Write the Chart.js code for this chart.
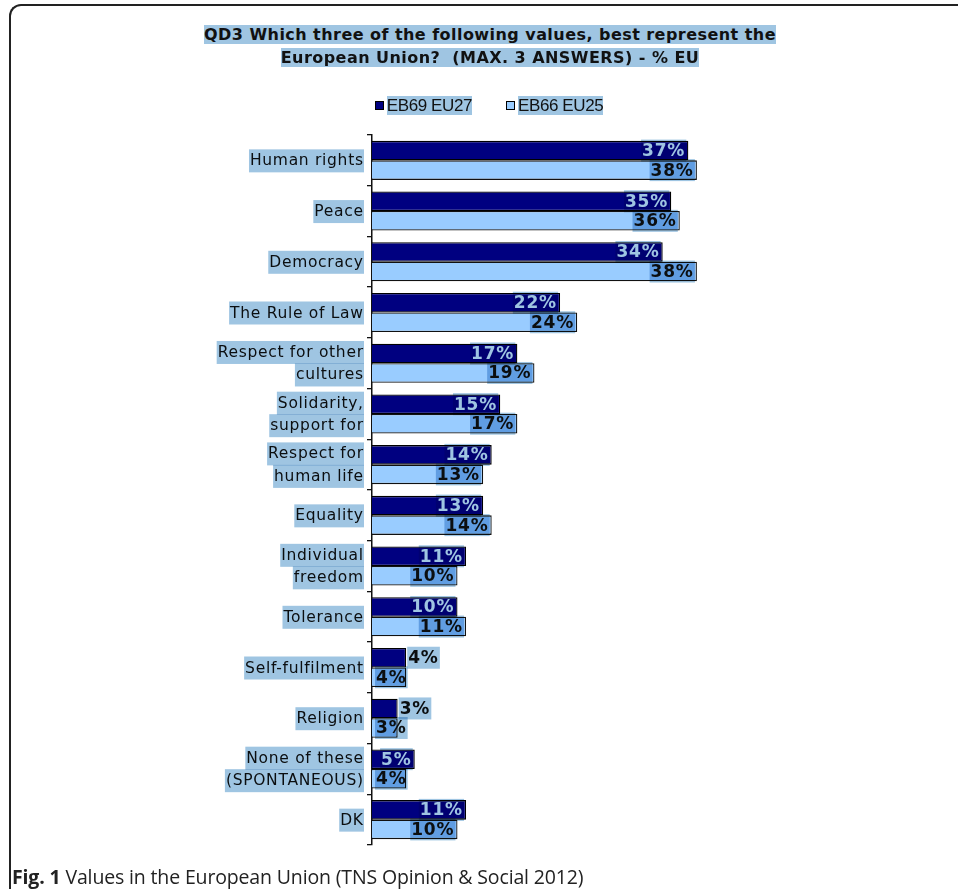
<!DOCTYPE html>
<html>
<head>
<meta charset="utf-8">
<script src="https://cdn.jsdelivr.net/npm/chart.js@4/dist/chart.umd.min.js"></script>
<style>
    body { margin: 0; width: 958px; height: 889px; overflow: hidden; background: #fff; position: relative; }
    .frame { position: absolute; left: 9px; top: 4px; width: 1000px; height: 1000px;
        border-left: 2px solid #222; border-top: 2px solid #222; border-top-left-radius: 12px; }
    .hl { background: #9fc5e2; mix-blend-mode: multiply; }
    #title { position: absolute; left: 0; top: 23px; width: 980px; text-align: center;
        font: bold 16px "DejaVu Sans", Verdana, sans-serif; letter-spacing: 0.45px; line-height: 23px; color: #111; }
    #legend { position: absolute; left: 0; top: 95px; width: 978px; text-align: center;
        font: 17px "Liberation Sans", Arial, sans-serif; line-height: 22px; color: #111; letter-spacing: -0.4px; }
    #legend .item { display: inline-block; margin: 0 17px; }
    #legend .box { display: inline-block; width: 7px; height: 7px; border: 1px solid #000; margin-right: 3px; vertical-align: 1px; }
    #caption { position: absolute; left: 12px; top: 863px; font: 19.5px "Open Sans", sans-serif; color: #222; letter-spacing: -0.15px; }
    #caption b { font-weight: bold; }
    .wrap { position: absolute; left: 0; top: 0; width: 958px; height: 889px; }
</style>
</head>
<body>
<div class="frame"></div>
<div class="wrap"><canvas id="values-chart"></canvas></div>
<div id="title"><span class="hl">QD3 Which three of the following values, best represent the</span><br><span class="hl">European Union?&nbsp; (MAX. 3 ANSWERS) - % EU</span></div>
<div id="legend"></div>
<div id="caption"><b>Fig. 1</b> Values in the European Union (TNS Opinion &amp; Social 2012)</div>
<script>
// categories, one array per label (multi-line labels)
const categories = [
    ['Human rights'],
    ['Peace'],
    ['Democracy'],
    ['The Rule of Law'],
    ['Respect for other', 'cultures'],
    ['Solidarity,', 'support for'],
    ['Respect for', 'human life'],
    ['Equality'],
    ['Individual', 'freedom'],
    ['Tolerance'],
    ['Self-fulfilment'],
    ['Religion'],
    ['None of these', '(SPONTANEOUS)'],
    ['DK']
];
const eb69Values = [37, 35, 34, 22, 17, 15, 14, 13, 11, 10, 4, 3, 5, 11];
const eb66Values = [38, 36, 38, 24, 19, 17, 13, 14, 10, 11, 4, 3, 4, 10];
const seriesNames = ['EB69 EU27', 'EB66 EU25'];

const HIGHLIGHT = '#9fc5e2';

// highlight a text box the way the pdf selection does (multiply blend)
function highlight(ctx, x, y, w, h) {
    ctx.save();
    ctx.globalCompositeOperation = 'multiply';
    ctx.fillStyle = HIGHLIGHT;
    ctx.fillRect(x, y, w, h);
    ctx.restore();
}

// category labels drawn left of the axis, one highlight per line
const categoryLabels = {
    id: 'categoryLabels',
    afterDraw(chart) {
        const ctx = chart.ctx;
        const yScale = chart.scales.y;
        const right = chart.chartArea.left - 9;
        ctx.save();
        ctx.font = '15.5px "DejaVu Sans", Verdana, sans-serif';
        ctx.letterSpacing = '0.7px';
        ctx.textAlign = 'left';
        ctx.textBaseline = 'middle';
        categories.forEach((lines, i) => {
            const cy = yScale.getPixelForValue(i);
            const lh = 22.5;
            lines.forEach((line, j) => {
                const ly = cy + (j - (lines.length - 1) / 2) * lh;
                const w = ctx.measureText(line).width - 0.7;
                ctx.fillStyle = '#111';
                ctx.fillText(line, right - w, ly + 1);
                highlight(ctx, right - w - 1, ly - 11, w + 2, 23);
            });
        });
        ctx.restore();
    }
};

// value labels at the end of each bar
const valueLabels = {
    id: 'valueLabels',
    afterDatasetsDraw(chart) {
        const ctx = chart.ctx;
        ctx.save();
        ctx.font = 'bold 17px "DejaVu Sans", Verdana, sans-serif';
        ctx.letterSpacing = '0.8px';
        ctx.textBaseline = 'middle';
        chart.data.datasets.forEach((ds, di) => {
            chart.getDatasetMeta(di).data.forEach((bar, i) => {
                const text = ds.data[i] + '%';
                const w = ctx.measureText(text).width - 0.8;
                const barW = bar.x - bar.base;
                let x;
                if (w + 8 <= barW) {
                    x = bar.x - 4 - w;
                } else if (di === 0) {
                    x = bar.x + 2;
                } else {
                    x = bar.base + 4;
                }
                const inside = x < bar.x - w;
                ctx.fillStyle = (di === 0 && inside) ? '#fff' : '#111';
                ctx.fillText(text, x, bar.y + 1);
                highlight(ctx, x - 1, bar.y - 11, w + 3, 22);
            });
        });
        ctx.restore();
    }
};

const chart = new Chart(document.getElementById('values-chart'), {
    type: 'bar',
    data: {
        labels: categories,
        datasets: [
            {
                label: seriesNames[0],
                data: eb69Values,
                backgroundColor: '#000080',
                borderColor: '#000',
                borderWidth: 1.3,
                borderSkipped: 'start'
            },
            {
                label: seriesNames[1],
                data: eb66Values,
                backgroundColor: '#99ccff',
                borderColor: '#111',
                borderWidth: 1.3,
                borderSkipped: 'start'
            }
        ]
    },
    options: {
        indexAxis: 'y',
        responsive: true,
        maintainAspectRatio: false,
        animation: false,
        layout: {
            padding: {left: 367, top: 135, bottom: 44, right: 244}
        },
        datasets: {
            bar: {categoryPercentage: 0.77, barPercentage: 1}
        },
        plugins: {
            legend: {display: false},
            tooltip: {enabled: false}
        },
        scales: {
            x: {
                display: false,
                min: 0,
                max: 40
            },
            y: {
                grid: {
                    drawOnChartArea: false,
                    offset: true,
                    tickLength: 5,
                    color: '#111',
                    lineWidth: 1.3
                },
                border: {color: '#111', width: 1.5},
                ticks: {display: false}
            }
        }
    },
    plugins: [categoryLabels, valueLabels]
});

// html legend built from the datasets
const legendEl = document.getElementById('legend');
chart.data.datasets.forEach(ds => {
    const item = document.createElement('span');
    item.className = 'item';
    item.innerHTML = '<span class="box" style="background:' + ds.backgroundColor + '"></span><span class="hl">' + ds.label + '</span>';
    legendEl.appendChild(item);
});
</script>
</body>
</html>
